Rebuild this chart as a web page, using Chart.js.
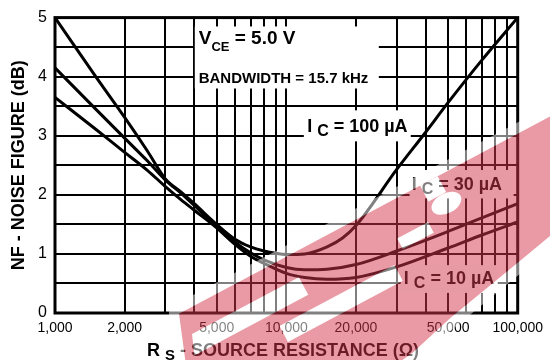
<!DOCTYPE html>
<html>
<head>
<meta charset="utf-8">
<script src="https://cdn.jsdelivr.net/npm/chart.js@4.4.0/dist/chart.umd.min.js"></script>
<style>
  html, body { margin: 0; padding: 0; background: #fff; }
</style>
</head>
<body>
<canvas id="nf" width="550" height="360"></canvas>
<script>
// source resistance (ohms) and noise figure (dB) for each collector current
const rs100 = [1000, 1500, 2000, 2500, 3000, 3500, 4000, 5000, 6000, 7000, 8000, 9000, 10000, 12000, 15000, 17500, 20000, 30000, 40000, 50000, 70000, 100000]
const nf100 = [5.0, 4.0, 3.31, 2.75, 2.27, 2.05, 1.85, 1.5, 1.25, 1.12, 1.05, 1.01, 0.99, 1.0, 1.12, 1.27, 1.48, 2.43, 3.06, 3.56, 4.28, 5.0]

const rs30 = [1000, 1500, 2000, 2500, 3000, 3500, 4000, 5000, 6000, 7000, 8000, 10000, 12000, 15000, 20000, 30000, 50000, 70000, 100000]
const nf30 = [4.15, 3.45, 2.96, 2.58, 2.25, 2.03, 1.82, 1.47, 1.2, 1.02, 0.9, 0.77, 0.73, 0.74, 0.82, 1.05, 1.38, 1.61, 1.85]

const rs10 = [1000, 1500, 2000, 2500, 3000, 3500, 4000, 5000, 6000, 7000, 8000, 10000, 12000, 15000, 20000, 30000, 50000, 70000, 100000]
const nf10 = [3.65, 3.11, 2.72, 2.42, 2.14, 1.92, 1.74, 1.44, 1.16, 0.96, 0.84, 0.67, 0.6, 0.57, 0.6, 0.78, 1.1, 1.32, 1.54]

// log grid: every 1k up to 10k, every 10k up to 100k
const xGrid = [1000, 2000, 3000, 4000, 5000, 6000, 7000, 8000, 9000, 10000,
    20000, 30000, 40000, 50000, 60000, 70000, 80000, 90000, 100000]
const xLabels = [1000, 2000, 5000, 10000, 20000, 50000, 100000]
const yLabels = [0, 1, 2, 3, 4, 5]

const FONT = "'Liberation Sans', Arial, sans-serif"

// white boxes behind the in-plot labels: [rs from, rs to, nf top, nf bottom]
const labelBoxes = [
    [4020, 25100, 4.85, 3.80],
    [11900, 34500, 3.43, 2.905],
    [34100, 96000, 2.42, 1.94],
    [31200, 82000, 0.81, 0.34],
]

// label runs: [text, font size, baseline shift]
const notes = [
    { rs: 4180, nf: 4.56, runs: [['V', 19, 0], ['CE', 13, 7], [' = 5.0 V', 19, 0]] },
    { rs: 4180, nf: 3.885, runs: [['BANDWIDTH = 15.7 kHz', 15, 0]] },
    { rs: 12300, nf: 3.07, runs: [['I ', 18, 0], ['C', 16, 4], [' = 100 µA', 18, 0]] },
    { rs: 34800, nf: 2.08, runs: [['I ', 18, 0], ['C', 16, 4], [' = 30 µA', 18, 0]] },
    { rs: 32200, nf: 0.49, runs: [['I ', 18, 0], ['C', 16, 4], [' = 10 µA', 18, 0]] },
]

// stamp across the lower right, in a frame tilted 28 degrees (u along, v up)
const stampOrigin = [190, 360]
const stampAngle = 28
const stampBody = [[12, 46], [470, 46], [470, -40], [335, -68], [250, -85], [200, -98], [100, -112], [-40, -112], [-5, 0]]
const stampHoles = [
    [[14, 22], [135, 22], [135, 2], [6, 2]],
    [[95, -12], [225, -12], [225, -30], [95, -30]],
    [[240, 10], [275, 10], [275, -2], [240, -2]],
    [[285, 46], [305, 46], [305, 28], [285, 28]],
]

function points(xs, ys) {
    return xs.map((x, i) => ({ x: x, y: ys[i] }))
}

function drawRuns(ctx, x, y, runs) {
    ctx.textBaseline = 'alphabetic'
    ctx.textAlign = 'left'
    runs.forEach(([text, size, dy]) => {
        ctx.font = 'bold ' + size + 'px ' + FONT
        ctx.fillText(text, x, y + dy)
        x += ctx.measureText(text).width
    })
}

function poly(ctx, pts) {
    ctx.beginPath()
    pts.forEach(([u, v], i) => i ? ctx.lineTo(u, -v) : ctx.moveTo(u, -v))
    ctx.closePath()
}

function drawStamp(chart) {
    const off = document.createElement('canvas')
    off.width = chart.width
    off.height = chart.height
    const g = off.getContext('2d')
    g.translate(stampOrigin[0], stampOrigin[1])
    g.rotate(-stampAngle * Math.PI / 180)
    g.lineJoin = 'round'

    // white halo round the letters
    poly(g, stampBody)
    g.fillStyle = '#fff'
    g.strokeStyle = '#fff'
    g.lineWidth = 20
    g.fill()
    g.stroke()

    poly(g, stampBody)
    g.fillStyle = 'rgb(211, 55, 75)'
    g.fill()

    g.fillStyle = '#fff'
    stampHoles.forEach(h => {
        poly(g, h)
        g.fill()
    })
    g.beginPath()
    g.ellipse(300, -18, 16, 10, 0, 0, Math.PI * 2)
    g.fill()

    const ctx = chart.ctx
    ctx.save()
    ctx.globalAlpha = 0.5
    ctx.drawImage(off, 0, 0)
    ctx.restore()
}

const decorations = {
    id: 'decorations',
    beforeDatasetsDraw(chart) {
        const { ctx, scales: { x, y } } = chart
        ctx.save()
        ctx.fillStyle = '#fff'
        labelBoxes.forEach(b => {
            const x0 = x.getPixelForValue(b[0])
            const x1 = x.getPixelForValue(b[1])
            const y0 = y.getPixelForValue(b[2])
            const y1 = y.getPixelForValue(b[3])
            ctx.fillRect(x0, y0, x1 - x0, y1 - y0)
        })
        ctx.fillStyle = '#000'
        notes.forEach(n => {
            drawRuns(ctx, x.getPixelForValue(n.rs), y.getPixelForValue(n.nf), n.runs)
        })
        ctx.restore()
    },
    afterDraw(chart) {
        const { ctx, chartArea: a } = chart
        ctx.save()
        ctx.strokeStyle = '#000'
        ctx.lineWidth = 3
        ctx.strokeRect(a.left, a.top, a.right - a.left, a.bottom - a.top)

        // axis titles
        ctx.fillStyle = '#000'
        drawRuns(ctx, 147, 356, [['R ', 18, 0], ['S', 15, 4], [' - SOURCE RESISTANCE (Ω)', 18, 0]])

        ctx.translate(24, (a.top + a.bottom) / 2)
        ctx.rotate(-Math.PI / 2)
        ctx.font = 'bold 18px ' + FONT
        ctx.textAlign = 'center'
        ctx.textBaseline = 'alphabetic'
        ctx.fillText('NF - NOISE FIGURE (dB)', 0, 0)
        ctx.restore()

        drawStamp(chart)
    }
}

const line = {
    borderColor: '#000',
    borderWidth: 3,
    pointRadius: 0,
    fill: false,
    cubicInterpolationMode: 'monotone',
}

new Chart(document.getElementById('nf'), {
    type: 'line',
    data: {
        datasets: [
            { ...line, label: 'IC = 100 µA', data: points(rs100, nf100) },
            { ...line, label: 'IC = 30 µA', data: points(rs30, nf30) },
            { ...line, label: 'IC = 10 µA', data: points(rs10, nf10) },
        ]
    },
    options: {
        responsive: false,
        animation: false,
        devicePixelRatio: 1,
        layout: {
            padding: { top: 17, right: 28, left: 0, bottom: 0 }
        },
        plugins: {
            legend: { display: false },
            tooltip: { enabled: false },
        },
        scales: {
            x: {
                type: 'logarithmic',
                min: 1000,
                max: 100000,
                afterBuildTicks: scale => {
                    scale.ticks = xGrid.map(v => ({ value: v }))
                },
                afterFit: scale => {
                    scale.height = 47
                },
                grid: {
                    color: '#000',
                    lineWidth: 2,
                    drawTicks: false,
                },
                border: { display: false },
                ticks: {
                    autoSkip: false,
                    maxRotation: 0,
                    padding: 7,
                    color: '#000',
                    font: { family: FONT, size: 14 },
                    callback: v => xLabels.includes(v) ? v.toLocaleString('en-US') : '',
                }
            },
            y: {
                min: 0,
                max: 5,
                afterFit: scale => {
                    scale.width = 55
                },
                grid: {
                    color: '#000',
                    lineWidth: 2,
                    drawTicks: false,
                },
                border: { display: false },
                ticks: {
                    stepSize: 0.5,
                    padding: 8,
                    color: '#000',
                    font: { family: FONT, size: 16 },
                    callback: v => yLabels.includes(v) ? String(v) : '',
                }
            }
        }
    },
    plugins: [decorations]
})
</script>
</body>
</html>
